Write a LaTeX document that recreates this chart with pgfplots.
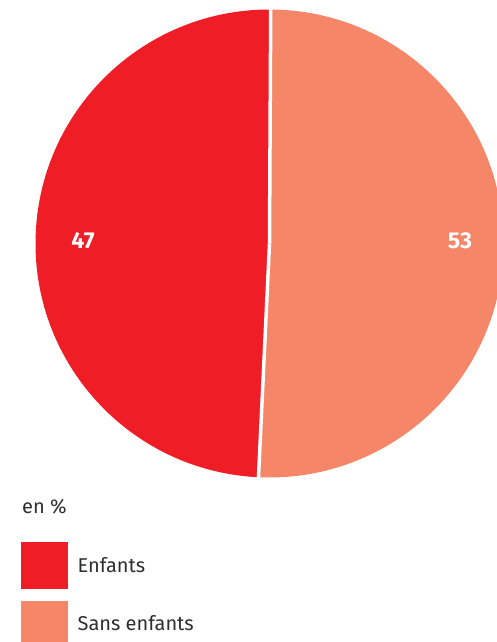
\documentclass[border=0pt]{standalone}
\usepackage{fontspec}
\setmainfont{Fira Sans}
\usepackage{pgfplots}
\pgfplotsset{compat=1.18}
\usepackage{pgfplotstable}
\definecolor{cEnf}{HTML}{EE1D26}
\definecolor{cSans}{HTML}{F58667}
\definecolor{txt}{HTML}{2E2E2E}
% label = printed value (en %), start/end = angles of the slice as drawn
\pgfplotstableread{
name    label start  end
Sans    53    89.7   -92.7
Enfants 47    -92.7  -270.3
}\pietable
\begin{document}
\begin{tikzpicture}
\begin{axis}[
  width=497pt, height=642pt, scale only axis,
  xmin=0, xmax=497, ymin=0, ymax=642,
  hide axis, clip=true,
  legend style={at={(axis cs:21,100)}, anchor=north west, draw=none, fill=none,
    inner sep=0pt, row sep=12pt, column sep=10pt,
    font=\fontsize{20}{22}\selectfont, text=txt, nodes={inner sep=0pt}},
  legend cell align=left,
]
\pgfplotstablegetelem{0}{start}\of\pietable\let\sA\pgfplotsretval
\pgfplotstablegetelem{0}{end}\of\pietable\let\eA\pgfplotsretval
\pgfplotstablegetelem{1}{start}\of\pietable\let\sB\pgfplotsretval
\pgfplotstablegetelem{1}{end}\of\pietable\let\eB\pgfplotsretval
\pgfplotstablegetelem{0}{label}\of\pietable\let\lA\pgfplotsretval
\pgfplotstablegetelem{1}{label}\of\pietable\let\lB\pgfplotsretval
\fill[cSans] (axis cs:269.5,398.5) -- ++(\sA:234pt) arc[start angle=\sA, end angle=\eA, radius=234pt] -- cycle;
\fill[cEnf] (axis cs:269.5,398.5) -- ++(\sB:234pt) arc[start angle=\sB, end angle=\eB, radius=234pt] -- cycle;
\draw[white, line width=3.5pt] (axis cs:269.5,398.5) -- ++(\sA:240pt);
\draw[white, line width=3.5pt] (axis cs:269.5,398.5) -- ++(\eA:240pt);
\node[white, font=\fontsize{23}{25}\selectfont\bfseries] at (axis cs:83,401) {\lB};
\node[white, font=\fontsize{23}{25}\selectfont\bfseries] at (axis cs:460,401) {\lA};
\node[anchor=base west, text=txt, inner sep=0pt, font=\fontsize{20}{22}\selectfont] at (axis cs:22,128) {en \%};
\addlegendimage{legend image code/.code={\fill[cEnf] (0pt,-23pt) rectangle (46pt,23pt);}}
\addlegendentry{Enfants}
\addlegendimage{legend image code/.code={\fill[cSans] (0pt,-23pt) rectangle (46pt,23pt);}}
\addlegendentry{Sans enfants}
\end{axis}
\pgfresetboundingbox
\useasboundingbox (current axis.south west) rectangle (current axis.north east);
\end{tikzpicture}
\end{document}
